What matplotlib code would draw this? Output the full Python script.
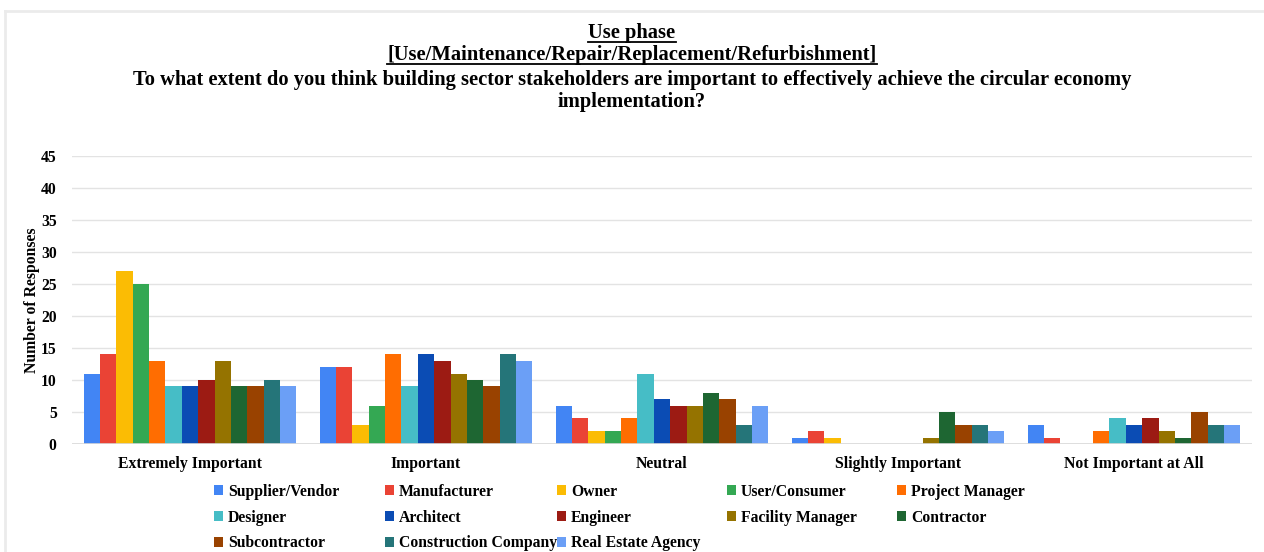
import numpy as np
import matplotlib.pyplot as plt
from matplotlib.lines import Line2D

plt.rcParams["font.family"] = ["Liberation Serif", "DejaVu Serif"]
plt.rcParams["font.weight"] = "bold"

categories = ["Extremely Important", "Important", "Neutral",
              "Slightly Important", "Not Important at All"]

stakeholders = ["Supplier/Vendor", "Manufacturer", "Owner", "User/Consumer",
                "Project Manager", "Designer", "Architect", "Engineer",
                "Facility Manager", "Contractor", "Subcontractor",
                "Construction Company", "Real Estate Agency"]

# responses per stakeholder, one value per category
supplier = [11, 12, 6, 1, 3]
manufacturer = [14, 12, 4, 2, 1]
owner = [27, 3, 2, 1, 0]
user = [25, 6, 2, 0, 0]
project_manager = [13, 14, 4, 0, 2]
designer = [9, 9, 11, 0, 4]
architect = [9, 14, 7, 0, 3]
engineer = [10, 13, 6, 0, 4]
facility_manager = [13, 11, 6, 1, 2]
contractor = [9, 10, 8, 5, 1]
subcontractor = [9, 9, 7, 3, 5]
construction_co = [10, 14, 3, 3, 3]
real_estate = [9, 13, 6, 2, 3]

series = [supplier, manufacturer, owner, user, project_manager, designer,
          architect, engineer, facility_manager, contractor, subcontractor,
          construction_co, real_estate]

colors = ["#4285F4", "#EA4335", "#FBBC04", "#34A853", "#FF6D01", "#46BDC6",
          "#0B4CB4", "#9C1B13", "#957300", "#1E6632", "#994200", "#257579",
          "#6B9FF6"]

W, H = 1264, 552
fig = plt.figure(figsize=(W / 100, H / 100), dpi=100)
ax = fig.add_axes([72 / W, 1 - 444 / H, (1252 - 72) / W, (444 - 156) / H])

x = np.arange(len(categories))
n = len(series)
bw = 0.9 / n
handles = []
for i, (vals, c) in enumerate(zip(series, colors)):
    b = ax.bar(x - 0.45 + bw * (i + 0.5), vals, bw, color=c, zorder=3,
               label=stakeholders[i])
    handles.append(b)

fs = 11.3
ax.set_xlim(-0.5, len(categories) - 0.5)
ax.set_ylim(0, 45)
ax.set_yticks(range(0, 46, 5))
ax.set_xticks(x)
ax.set_xticklabels(categories, fontsize=fs, fontweight="bold")
ax.tick_params(axis="both", length=0, labelsize=fs)
ax.tick_params(axis="x", pad=9)
ax.tick_params(axis="y", pad=11)
for lab in ax.get_yticklabels():
    lab.set_fontweight("bold")
ax.grid(axis="y", color="#E3E3E3", linewidth=1, zorder=0)
for s in ax.spines.values():
    s.set_visible(False)
ax.axhline(0, color="#D9D9D9", linewidth=1.2, zorder=4)
ax.set_ylabel("Number of Responses", fontsize=fs, fontweight="bold")
ax.yaxis.set_label_coords(-32 / (1252 - 72), 0.5)

# legend laid out in five columns, filled row by row
col_x = [214, 385, 557, 727, 897]
prop = {"family": "Liberation Serif", "weight": "bold", "size": fs}
for c in range(5):
    idx = list(range(c, n, 5))
    lg = fig.legend([handles[k] for k in idx], [stakeholders[k] for k in idx],
                    loc="upper left", bbox_to_anchor=(col_x[c] / W, 1 - 484 / H),
                    frameon=False, handlelength=0.6, handleheight=0.6,
                    handletextpad=0.3, labelspacing=0.62, prop=prop,
                    borderpad=0, borderaxespad=0)

# title lines, the first two underlined
title_lines = ["Use phase",
               "[Use/Maintenance/Repair/Replacement/Refurbishment]",
               "To what extent do you think building sector stakeholders are "
               "important to effectively achieve the circular economy",
               "implementation?"]
ys = [33, 55, 80, 102]
texts = []
for t, yy in zip(title_lines, ys):
    texts.append(fig.text(0.5, 1 - yy / H, t, ha="center", va="center",
                          fontsize=14.8, fontweight="bold"))

fig.canvas.draw()
r = fig.canvas.get_renderer()
for t in texts[:2]:
    bb = t.get_window_extent(r)
    yl = bb.y0 + 1
    fig.add_artist(Line2D([bb.x0 / W, bb.x1 / W], [yl / H, yl / H],
                          color="black", linewidth=1.3))

# light frame along top and left edges
fig.add_artist(Line2D([5 / W, 1.0], [1 - 11 / H, 1 - 11 / H],
                      color="#EBEBEB", linewidth=2))
fig.add_artist(Line2D([5 / W, 5 / W], [0, 1 - 11 / H],
                      color="#EBEBEB", linewidth=2))

fig.savefig("out.png", dpi=100)
